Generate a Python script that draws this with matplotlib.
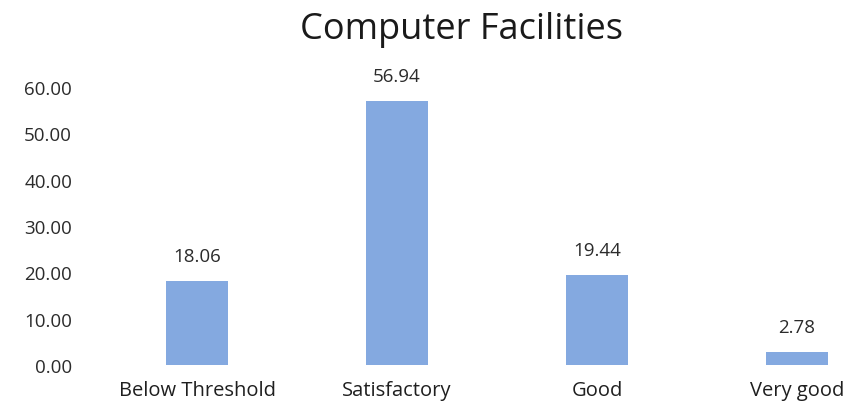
import matplotlib
matplotlib.use("Agg")
import matplotlib.pyplot as plt

categories = ["Below Threshold", "Satisfactory", "Good", "Very good"]
values = [18.06, 56.94, 19.44, 2.78]
yticks = [0, 10, 20, 30, 40, 50, 60]

plt.rcParams["font.family"] = ["Open Sans", "DejaVu Sans"]

W, H = 855, 414
fig = plt.figure(figsize=(W / 100, H / 100), dpi=100)
# plot area in pixels: x0 at 97, category width 200, y=0 at 366, y=60 at 88
ax = fig.add_axes([97 / W, (H - 366) / H, 800 / W, (366 - 88) / H])

xs = range(len(categories))
ax.bar(xs, values, width=0.31, color="#84A9E0")
for x, v in zip(xs, values):
    ax.annotate(f"{v:.2f}", (x, v), xytext=(0, 18), textcoords="offset points",
                ha="center", va="center", fontsize=13.5, color="#2b2b2b",
                annotation_clip=False)

ax.set_xlim(-0.5, 3.5)
ax.set_ylim(0, 60)
ax.set_yticks(yticks)
ax.set_yticklabels([f"{t:.2f}" for t in yticks], fontsize=13.5, color="#2b2b2b")
ax.set_xticks(list(xs))
ax.set_xticklabels(categories, fontsize=14.5, color="#1f1f1f")
ax.tick_params(length=0)
ax.tick_params(axis="y", pad=18)
ax.tick_params(axis="x", pad=11)
for s in ax.spines.values():
    s.set_visible(False)

fig.text(461 / W, 1 - 30 / H, "Computer Facilities", ha="center", va="center",
         fontsize=26, color="#1a1a1a")

fig.savefig("out.png", dpi=100)
